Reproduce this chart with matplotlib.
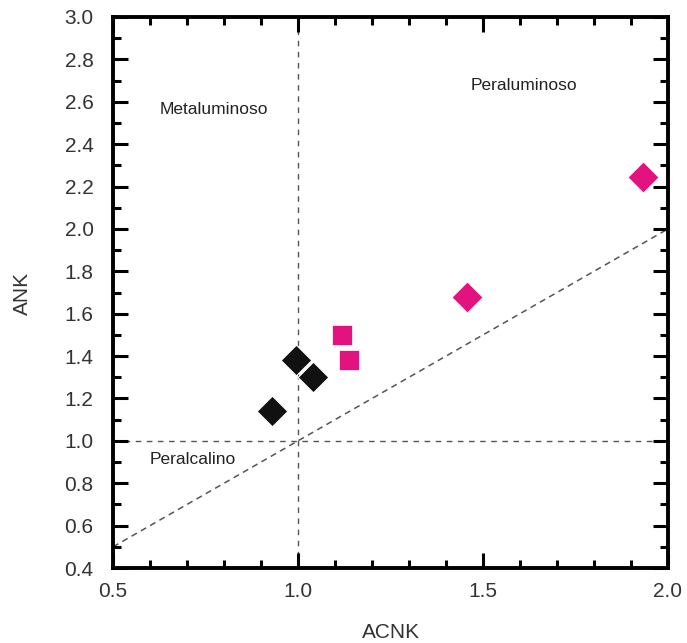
import matplotlib
matplotlib.use("Agg")
import matplotlib.pyplot as plt
from matplotlib.ticker import MultipleLocator

plt.rcParams['font.family'] = ['Liberation Sans', 'DejaVu Sans']

# Data
black_acnk = [0.93, 0.995, 1.04]
black_ank = [1.14, 1.38, 1.30]
sq_acnk = [1.12, 1.138]
sq_ank = [1.50, 1.38]
mag_acnk = [1.457, 1.932]
mag_ank = [1.68, 2.245]
magenta = '#E2137F'

fig = plt.figure(figsize=(6.87, 6.43), dpi=100)
ax = fig.add_axes([0.1645, 0.1166, 0.8078, 0.857])

ax.set_xlim(0.5, 2.0)
ax.set_ylim(0.4, 3.0)

# reference lines
ax.plot([0.5, 2.0], [0.5, 2.0], ls=(0, (4, 3)), color='#555555', lw=1.1, zorder=1)
ax.axvline(1.0, ls=(0, (4, 4)), color='#555555', lw=1.0, zorder=1)
ax.axhline(1.0, ls=(0, (4, 4)), color='#555555', lw=1.0, zorder=1)

ax.scatter(black_acnk, black_ank, marker='D', s=245, color='#111111', edgecolor='white', linewidth=0.8, zorder=3)
ax.scatter(sq_acnk, sq_ank, marker='s', s=200, color=magenta, edgecolor='white', linewidth=0.5, zorder=3)
ax.scatter(mag_acnk, mag_ank, marker='D', s=245, color=magenta, edgecolor='white', linewidth=0.5, zorder=3)

ax.text(0.772, 2.563, 'Metaluminoso', fontsize=12.5, ha='center', va='center', color='#222222')
ax.text(1.61, 2.677, 'Peraluminoso', fontsize=12.5, ha='center', va='center', color='#222222')
ax.text(0.715, 0.91, 'Peralcalino', fontsize=12.5, ha='center', va='center', color='#222222')

ax.xaxis.set_major_locator(MultipleLocator(0.5))
ax.xaxis.set_minor_locator(MultipleLocator(0.1))
ax.yaxis.set_major_locator(MultipleLocator(0.2))
ax.yaxis.set_minor_locator(MultipleLocator(0.1))
ax.xaxis.set_major_formatter(plt.FormatStrFormatter('%.1f'))
ax.yaxis.set_major_formatter(plt.FormatStrFormatter('%.1f'))

ax.tick_params(which='both', direction='in', top=True, right=True, width=2.2, color='black')
ax.tick_params(which='major', length=11, labelsize=15, labelcolor='#333333')
ax.tick_params(axis='y', which='major', pad=14)
ax.tick_params(axis='x', which='major', pad=10)
ax.tick_params(which='minor', length=6)
for sp in ax.spines.values():
    sp.set_linewidth(2.8)

fig.text(391/687, 1 - 632/643, 'ACNK', fontsize=15, ha='center', va='center', color='#333333')
fig.text(22/687, 1 - 293/643, 'ANK', fontsize=15, ha='center', va='center', rotation=90, color='#333333')

fig.savefig('out.png', dpi=100)
